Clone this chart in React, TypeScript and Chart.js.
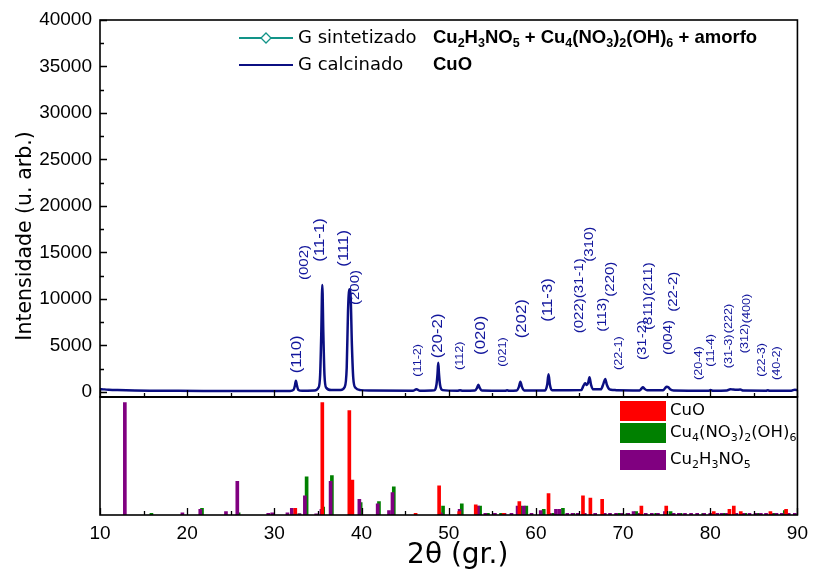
import React, { useEffect, useRef } from 'react';
import { Chart, registerables } from 'chart.js';

Chart.register(...registerables);

// ---------- data ----------
const xTicks = [10, 20, 30, 40, 50, 60, 70, 80, 90];
const yTicks = [0, 5000, 10000, 15000, 20000, 25000, 30000, 35000, 40000];

// G calcinado diffractogram (2θ, intensity)
const calcX = [10, 10.5, 11, 12, 13, 14, 16, 19, 23, 28, 31.8, 32.2, 32.35, 32.47, 32.6, 32.75, 33.2,
  34.6, 35.05, 35.25, 35.38, 35.5, 35.62, 35.75, 35.95, 36.5, 37.6, 38.05, 38.3, 38.45, 38.6, 38.75, 38.9,
  39.05, 39.3, 39.9, 41, 45.9, 46.3, 46.7, 48.35, 48.6, 48.72, 48.8, 48.88, 49.0, 49.3, 51.0, 51.3, 51.6,
  53.0, 53.25, 53.4, 53.55, 53.8, 56.5, 56.7, 56.9, 57.8, 58.05, 58.22, 58.4, 58.65, 61.05, 61.3, 61.45,
  61.6, 61.85, 65.2, 65.45, 65.65, 65.85, 66.0, 66.15, 66.32, 66.6, 67.45, 67.75, 67.95, 68.15, 68.45,
  68.9, 69.3, 71.9, 72.1, 72.28, 72.45, 72.75, 74.6, 74.85, 75.0, 75.2, 75.4, 75.8, 79.8, 80.05, 80.3,
  81.9, 82.3, 82.6, 83.0, 83.45, 83.8, 86.4, 86.6, 86.8, 89.3, 89.7, 90];
const calcY = [320, 280, 250, 210, 180, 160, 140, 120, 110, 100, 110, 220, 650, 1215, 650, 220, 130,
  160, 450, 1800, 6200, 11500, 6200, 1800, 450, 200, 210, 500, 2600, 8700, 11040, 10200, 4900,
  1500, 450, 200, 150, 130, 290, 130, 180, 800, 2000, 3150, 2000, 800, 200, 130, 180, 130,
  160, 450, 790, 450, 160, 140, 180, 140, 170, 550, 1110, 550, 170, 170, 800, 1900,
  800, 180, 200, 650, 930, 750, 1000, 1580, 800, 280, 280, 900, 1400, 750, 280,
  220, 180, 170, 350, 500, 350, 180, 190, 450, 570, 520, 300, 170, 140, 220, 140,
  160, 300, 260, 230, 260, 150, 140, 180, 140, 140, 240, 200];

// reference patterns (2θ, relative intensity %)
const cuoPos = [32.4, 35.5, 38.6, 38.95, 46.2, 48.9, 51.2, 53.1, 56.3, 58.1, 61.45, 65.4, 66.25, 67.6,
  72.1, 74.95, 80.4, 82.2, 82.7, 83.5, 86.9, 88.7];
const cuoInt = [6, 100, 93, 31, 1.5, 26, 3, 9, 1.5, 12, 19, 17, 15, 14, 8, 8, 3, 5, 8, 3, 3, 5];

const nitPos = [15.9, 21.7, 25.9, 32.0, 32.85, 33.7, 35.6, 36.6, 39.9, 42.0, 43.7, 49.35, 51.5, 53.6, 54.5,
  56.0, 58.2, 58.9, 60.9, 62.0, 63.1, 64.3, 69.6, 70.5, 71.5, 73.8, 75.45, 76.6, 79.2, 81.5, 84.0, 85.5,
  87.3, 88.55];
const nitInt = [1.5, 6, 2, 1, 1, 34, 7, 35, 11, 12, 25, 8, 10, 8, 1.5, 1.5, 8, 8, 5, 1.5, 6, 1.5, 1.5,
  1.5, 3, 1.5, 3, 1.5, 1.5, 1.5, 1.5, 1.5, 1.5, 4];

const hnoPos = [12.85, 19.45, 21.5, 24.45, 25.75, 29.3, 29.75, 31.5, 32.0, 32.9, 33.5, 34.8, 35.4, 36.45,
  39.75, 41.85, 43.15, 43.55, 49.1, 51.25, 53.35, 54.2, 55.3, 56.4, 57.2, 57.9, 58.6, 59.5, 60.55, 61.6,
  62.3, 62.7, 63.6, 64.2, 64.8, 65.6, 66.8, 67.9, 68.5, 69.2, 69.9, 70.6, 71.2, 71.9, 72.6, 73.3, 74.0,
  74.8, 75.8, 76.4, 77.1, 77.8, 78.5, 79.3, 80.0, 80.8, 81.3, 81.9, 83.0, 83.8, 84.5, 85.2, 85.8, 86.4,
  87.0, 87.6, 88.2, 89.0, 89.7];
const hnoInt = [100, 2, 5, 3, 30, 1.5, 2, 2, 6, 1, 17, 1, 5, 30, 14, 10, 4, 20, 2, 5, 8, 1.5, 1.5, 1.5,
  1.5, 8, 8, 1.5, 4, 1.5, 5, 5, 1.5, 1.5, 1.5, 1.5, 1.5, 1.5, 1.5, 1.5, 1.5, 1.5, 3, 1.5, 1.5, 1.5, 1.5,
  3, 1.5, 1.5, 1.5, 1.5, 1.5, 1.5, 1.5, 1.5, 1.5, 1.5, 1.5, 1.5, 1.5, 1.5, 1.5, 1.5, 1.5, 1.5, 1.5, 1.5, 1.5];

// Miller-index annotations: text, 2θ, intensity where the text starts, size class
const hklText = ['(110)', '(002)', '(11-1)', '(111)', '(200)', '(11-2)', '(20-2)', '(112)', '(020)', '(021)',
  '(202)', '(11-3)', '(022)(31-1)', '(310)', '(113)', '(220)', '(22-1)', '(31-2)', '(311)(211)', '(004)',
  '(22-2)', '(20-4)', '(11-4)', '(31-3)', '(222)', '(312)', '(400)', '(22-3)', '(40-2)'];
const hklX = [32.57, 33.51, 35.3, 37.95, 39.27, 46.54, 48.8, 51.36, 53.7, 56.23, 58.45, 61.44, 65.04,
  66.17, 67.68, 68.62, 69.49, 72.21, 72.97, 75.16, 75.8, 78.75, 80.06, 82.15, 82.22, 84.03, 84.22, 85.92, 87.62];
const hklY = [2010, 12040, 14010, 13470, 9350, 1650, 3620, 2370, 3980, 2720, 5770, 7560, 6310, 14010, 6480,
  10250, 2370, 3440, 6670, 3980, 8630, 1290, 2720, 2550, 6310, 4160, 7390, 1650, 1290];
const hklCat = ['L', 'M', 'L', 'L', 'M', 'S', 'L', 'S', 'L', 'S', 'L', 'L', 'M', 'M', 'M', 'M', 'S', 'M', 'M',
  'M', 'M', 'S', 'S', 'S', 'S', 'S', 'S', 'S', 'S'];

const seriesNames = ['G sintetizado', 'G calcinado'];
const seriesPhases = ['Cu_2H_3NO_5 + Cu_4(NO_3)_2(OH)_6 + amorfo', 'CuO'];
const refNames = ['CuO', 'Cu_4(NO_3)_2(OH)_6', 'Cu_2H_3NO_5'];

// ---------- styles ----------
const NAVY = '#0b0f82';
const TEAL = '#129488';
const LABEL_BLUE = '#12169c';
const RED = '#ff0000';
const GREEN = '#008000';
const PURPLE = '#800080';
const refColors = [RED, GREEN, PURPLE];
const HKL_FONT: Record<string, number> = { L: 14, M: 12.5, S: 10.5 };

function drawRich(ctx: CanvasRenderingContext2D, text: string, x: number, y: number,
  size: number, subSize: number, weight: string, family: string) {
  const parts = text.split(/(_\d)/).filter((p) => p.length);
  let cx = x;
  ctx.textAlign = 'left';
  ctx.textBaseline = 'middle';
  for (const p of parts) {
    const sub = p[0] === '_';
    const t = sub ? p.slice(1) : p;
    ctx.font = `${weight} ${sub ? subSize : size}px ${family}`;
    ctx.fillText(t, cx, sub ? y + size * 0.3 : y);
    cx += ctx.measureText(t).width;
  }
}

const decor = {
  id: 'decor',
  afterDatasetsDraw(chart: any) {
    const ctx: CanvasRenderingContext2D = chart.ctx;
    const xs = chart.scales.x;
    const ys = chart.scales.y;
    const y2s = chart.scales.y2;
    const L = chart.chartArea.left;
    const R = chart.chartArea.right;
    ctx.save();

    // frames
    ctx.strokeStyle = '#000';
    ctx.lineWidth = 1.6;
    ctx.strokeRect(L, ys.top, R - L, ys.bottom - ys.top);
    ctx.strokeRect(L, y2s.top, R - L, y2s.bottom - y2s.top);
    ctx.lineWidth = 2.2;
    ctx.beginPath();
    ctx.moveTo(L, ys.bottom);
    ctx.lineTo(R, ys.bottom);
    ctx.stroke();

    // inward ticks
    ctx.lineWidth = 1.3;
    ctx.beginPath();
    for (let i = 0; i < xTicks.length; i++) {
      const vals = [xTicks[i]];
      if (i < xTicks.length - 1) vals.push((xTicks[i] + xTicks[i + 1]) / 2);
      vals.forEach((v, k) => {
        const px = Math.round(xs.getPixelForValue(v)) + 0.5;
        const len = k === 0 ? 7 : 4;
        ctx.moveTo(px, ys.bottom);
        ctx.lineTo(px, ys.bottom - len);
        ctx.moveTo(px, y2s.bottom);
        ctx.lineTo(px, y2s.bottom - len);
      });
    }
    for (let i = 0; i < yTicks.length; i++) {
      const vals = [yTicks[i]];
      if (i < yTicks.length - 1) vals.push((yTicks[i] + yTicks[i + 1]) / 2);
      vals.forEach((v, k) => {
        const py = Math.round(ys.getPixelForValue(v)) + 0.5;
        const len = k === 0 ? 7 : 4;
        ctx.moveTo(L, py);
        ctx.lineTo(L + len, py);
      });
    }
    ctx.stroke();

    // Miller indices
    ctx.fillStyle = LABEL_BLUE;
    ctx.textAlign = 'left';
    ctx.textBaseline = 'middle';
    for (let i = 0; i < hklText.length; i++) {
      const px = xs.getPixelForValue(hklX[i]);
      const py = ys.getPixelForValue(hklY[i]);
      ctx.save();
      ctx.translate(px, py);
      ctx.rotate(-Math.PI / 2);
      ctx.scale(1.2, 1);
      ctx.font = `${HKL_FONT[hklCat[i]]}px "Liberation Sans", Arial, sans-serif`;
      ctx.fillText(hklText[i], 0, 0);
      ctx.restore();
    }

    // top legend
    const lx0 = L + 139;
    const lx1 = L + 193;
    const rowY = [ys.top + 18, ys.top + 45];
    const colors = [TEAL, NAVY];
    for (let r = 0; r < 2; r++) {
      ctx.strokeStyle = colors[r];
      ctx.lineWidth = 2;
      ctx.beginPath();
      ctx.moveTo(lx0, rowY[r]);
      ctx.lineTo(lx1, rowY[r]);
      ctx.stroke();
      if (r === 0) {
        const cx = (lx0 + lx1) / 2;
        ctx.fillStyle = '#fff';
        ctx.lineWidth = 1.3;
        ctx.beginPath();
        ctx.moveTo(cx, rowY[r] - 5);
        ctx.lineTo(cx + 5, rowY[r]);
        ctx.lineTo(cx, rowY[r] + 5);
        ctx.lineTo(cx - 5, rowY[r]);
        ctx.closePath();
        ctx.fill();
        ctx.stroke();
      }
      ctx.fillStyle = '#000';
      drawRich(ctx, seriesNames[r], L + 198, rowY[r], 18, 12, 'normal', '"DejaVu Sans", Verdana, sans-serif');
      drawRich(ctx, seriesPhases[r], L + 333, rowY[r], 18.5, 12.5, 'bold', '"Liberation Sans", Arial, sans-serif');
    }

    // bottom legend
    const boxY = [y2s.top + 4, y2s.top + 26, y2s.top + 53];
    for (let r = 0; r < 3; r++) {
      ctx.fillStyle = refColors[r];
      ctx.fillRect(L + 520, boxY[r], 46, 20);
      ctx.fillStyle = '#000';
      drawRich(ctx, refNames[r], L + 570, boxY[r] + 10, 16.5, 11, 'normal', '"DejaVu Sans", Verdana, sans-serif');
    }

    // axis titles
    ctx.fillStyle = '#000';
    ctx.textAlign = 'center';
    ctx.textBaseline = 'middle';
    ctx.font = '28px "DejaVu Sans", Verdana, sans-serif';
    ctx.fillText('2θ (gr.)', (L + R) / 2 + 9, 556);
    ctx.save();
    ctx.translate(26, 236);
    ctx.rotate(-Math.PI / 2);
    ctx.font = '20.5px "DejaVu Sans", Verdana, sans-serif';
    ctx.fillText('Intensidade (u. arb.)', 0, 0);
    ctx.restore();

    ctx.restore();
  },
};

export default function App() {
  const ref = useRef<HTMLCanvasElement>(null);
  useEffect(() => {
    const canvas = ref.current;
    if (!canvas) return;
    const pts = (xs: number[], ys: number[]) => xs.map((x, i) => ({ x, y: ys[i] }));
    const chart = new Chart(canvas, {
      data: {
        datasets: [
          {
            type: 'line', label: seriesNames[1], data: pts(calcX, calcY), xAxisID: 'x', yAxisID: 'y',
            borderColor: NAVY, borderWidth: 2.5, pointRadius: 0, cubicInterpolationMode: 'monotone', order: 0,
          },
          {
            type: 'bar', label: 'Cu4(NO3)2(OH)6', data: pts(nitPos, nitInt), xAxisID: 'x', yAxisID: 'y2',
            backgroundColor: GREEN, barThickness: 3, grouped: false, order: 3,
          },
          {
            type: 'bar', label: 'Cu2H3NO5', data: pts(hnoPos, hnoInt), xAxisID: 'x', yAxisID: 'y2',
            backgroundColor: PURPLE, barThickness: 3, grouped: false, order: 2,
          },
          {
            type: 'bar', label: 'CuO', data: pts(cuoPos, cuoInt), xAxisID: 'x', yAxisID: 'y2',
            backgroundColor: RED, barThickness: 3, grouped: false, order: 1,
          },
        ] as any,
      },
      options: {
        responsive: false,
        animation: false,
        events: [],
        layout: { padding: { top: 20, right: 9, left: 0, bottom: 0 } },
        plugins: { legend: { display: false }, tooltip: { enabled: false } },
        scales: {
          x: {
            type: 'linear', position: 'bottom', min: 10, max: 90, offset: false,
            grid: { display: false, drawTicks: false }, border: { display: false },
            ticks: {
              color: '#000', padding: 7, font: { family: '"Liberation Sans", Arial, sans-serif', size: 19 },
              callback: (v: any) => String(v),
            },
            afterBuildTicks: (s: any) => { s.ticks = xTicks.map((v) => ({ value: v })); },
            afterFit: (s: any) => { s.height = 59; },
          },
          y: {
            type: 'linear', position: 'left', stack: 'panels', stackWeight: 377, weight: 2,
            min: -540, max: 40000,
            grid: { display: false, drawTicks: false }, border: { display: false },
            ticks: {
              color: '#000', padding: 8, font: { family: '"Liberation Sans", Arial, sans-serif', size: 19 },
              callback: (v: any) => String(v),
            },
            afterBuildTicks: (s: any) => { s.ticks = yTicks.map((v) => ({ value: v })); },
            afterFit: (s: any) => { s.width = 100; },
          },
          y2: {
            type: 'linear', position: 'left', stack: 'panels', stackWeight: 118, weight: 1,
            min: 0, max: 105,
            grid: { display: false, drawTicks: false }, border: { display: false },
            ticks: { display: false },
            afterFit: (s: any) => { s.width = 100; },
          },
        } as any,
      },
      plugins: [decor],
    } as any);
    return () => chart.destroy();
  }, []);
  return (
    <div style={{ position: 'fixed', left: 0, top: 0, width: 815, height: 574, background: '#fff' }}>
      <canvas ref={ref} width={815} height={574} style={{ display: 'block' }} />
    </div>
  );
}
